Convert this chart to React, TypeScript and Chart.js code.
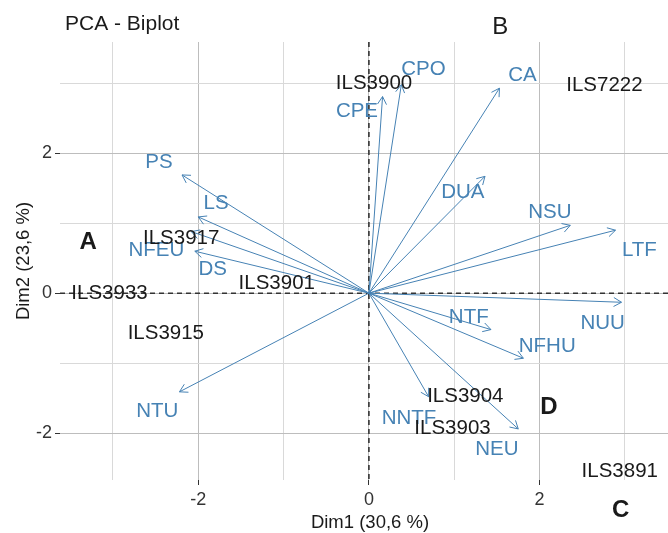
import React, { useEffect, useRef } from "react";
import { Chart, registerables } from "chart.js";

Chart.register(...registerables);

// Variables (arrows): tip coordinates and label positions
const varNames = ["PS", "LS", "DS", "NFEU", "NTU", "CPE", "CPO", "CA", "DUA", "NSU", "LTF", "NUU", "NTF", "NFHU", "NNTF", "NEU"];
const varX = [-2.19, -2.0, -2.08, -2.04, -2.22, 0.16, 0.38, 1.53, 1.36, 2.36, 2.89, 2.96, 1.43, 1.81, 0.7, 1.75];
const varY = [1.69, 1.09, 0.88, 0.6, -1.41, 2.81, 2.98, 2.93, 1.67, 0.97, 0.9, -0.13, -0.52, -0.93, -1.48, -1.94];
const varLabelX = [-2.46, -1.79, -1.83, -2.49, -2.48, -0.14, 0.64, 1.8, 1.1, 2.12, 3.17, 2.74, 1.17, 2.09, 0.47, 1.5];
const varLabelY = [1.9, 1.31, 0.36, 0.64, -1.67, 2.62, 3.22, 3.14, 1.46, 1.18, 0.64, -0.41, -0.32, -0.74, -1.76, -2.21];

// Individuals (labels only)
const indNames = ["ILS3900", "ILS7222", "ILS3917", "ILS3901", "ILS3933", "ILS3915", "ILS3904", "ILS3903", "ILS3891"];
const indX = [0.06, 2.76, -2.2, -1.08, -3.04, -2.38, 1.13, 0.98, 2.94];
const indY = [3.02, 3.0, 0.81, 0.17, 0.02, -0.55, -1.45, -1.91, -2.52];

// Group annotations
const groupNames = ["A", "B", "C", "D"];
const groupX = [-3.29, 1.54, 2.95, 2.11];
const groupY = [0.76, 3.82, -3.07, -1.6];
const groupBold = [true, false, true, true];

// Axes
const xMin = -3.62;
const xMax = 3.505;
const yMin = -2.67;
const yMax = 3.59;
const labeledTicks = [-2, 0, 2];

const chartTitle = "PCA - Biplot";
const xTitle = "Dim1 (30,6 %)";
const yTitle = "Dim2 (23,6 %)";

const FONT = '"Liberation Sans", Arial, sans-serif';
const BLUE = "#4682B4";

function drawText(ctx: CanvasRenderingContext2D, text: string, x: number, y: number, size: number, color: string, bold = false) {
  ctx.font = `${bold ? "bold " : ""}${size}px ${FONT}`;
  ctx.fillStyle = color;
  ctx.textAlign = "center";
  ctx.textBaseline = "alphabetic";
  ctx.fillText(text, x, y + 0.358 * size);
}

const biplotPlugin = {
  id: "biplot",
  beforeDatasetsDraw(chart: any) {
    const { ctx, chartArea: a, scales } = chart;
    const x0 = scales.x.getPixelForValue(0);
    const y0 = scales.y.getPixelForValue(0);
    ctx.save();
    ctx.strokeStyle = "#333";
    ctx.lineWidth = 1.6;
    ctx.setLineDash([5, 4]);
    ctx.beginPath();
    ctx.moveTo(x0, a.top);
    ctx.lineTo(x0, a.bottom);
    ctx.moveTo(a.left, y0);
    ctx.lineTo(a.right, y0);
    ctx.stroke();
    ctx.restore();
  },
  afterDatasetsDraw(chart: any) {
    const { ctx } = chart;
    ctx.save();
    ctx.strokeStyle = BLUE;
    ctx.lineWidth = 1;
    chart.data.datasets.forEach((_: any, i: number) => {
      const meta = chart.getDatasetMeta(i);
      const p0 = meta.data[0];
      const p1 = meta.data[1];
      if (!p0 || !p1) return;
      const ang = Math.atan2(p1.y - p0.y, p1.x - p0.x);
      const len = 9;
      const spread = Math.PI / 6;
      ctx.beginPath();
      ctx.moveTo(p1.x - len * Math.cos(ang - spread), p1.y - len * Math.sin(ang - spread));
      ctx.lineTo(p1.x, p1.y);
      ctx.lineTo(p1.x - len * Math.cos(ang + spread), p1.y - len * Math.sin(ang + spread));
      ctx.stroke();
    });
    ctx.restore();
  },
  afterDraw(chart: any) {
    const { ctx, scales } = chart;
    const sx = scales.x;
    const sy = scales.y;
    ctx.save();
    varNames.forEach((n, i) => {
      drawText(ctx, n, sx.getPixelForValue(varLabelX[i]), sy.getPixelForValue(varLabelY[i]), 20.5, BLUE);
    });
    indNames.forEach((n, i) => {
      drawText(ctx, n, sx.getPixelForValue(indX[i]), sy.getPixelForValue(indY[i]), 20.5, "#1a1a1a");
    });
    groupNames.forEach((n, i) => {
      drawText(ctx, n, sx.getPixelForValue(groupX[i]), sy.getPixelForValue(groupY[i]), 24, "#1a1a1a", groupBold[i]);
    });
    // Title
    ctx.font = `21px ${FONT}`;
    ctx.fillStyle = "#1a1a1a";
    ctx.textAlign = "left";
    ctx.textBaseline = "alphabetic";
    ctx.fillText(chartTitle, 65, 30);
    // X axis title
    drawText(ctx, xTitle, 370, 521.7, 18.5, "#1a1a1a");
    // Y axis title
    ctx.save();
    ctx.translate(22 + 0.358 * 18.5, 261);
    ctx.rotate(-Math.PI / 2);
    ctx.font = `18.5px ${FONT}`;
    ctx.fillStyle = "#1a1a1a";
    ctx.textAlign = "center";
    ctx.textBaseline = "alphabetic";
    ctx.fillText(yTitle, 0, 0);
    ctx.restore();
    ctx.restore();
  },
};

const isLabeled = (v: number) => labeledTicks.some((t) => Math.abs(t - v) < 1e-9);

export default function App() {
  const canvasRef = useRef<HTMLCanvasElement | null>(null);

  useEffect(() => {
    document.body.style.margin = "0";
    const canvas = canvasRef.current;
    if (!canvas) return;
    const datasets = varNames.map((n, i) => ({
      label: n,
      data: [
        { x: 0, y: 0 },
        { x: varX[i], y: varY[i] },
      ],
      showLine: true,
      borderColor: BLUE,
      borderWidth: 1,
      pointRadius: 0,
      pointHoverRadius: 0,
      fill: false,
    }));

    const gridColor = (c: any) => (c.tick && isLabeled(c.tick.value) ? "#bdbdbd" : "#d9d9d9");
    const tickColor = (c: any) => (c.tick && isLabeled(c.tick.value) ? "#333" : "rgba(0,0,0,0)");

    const chart = new Chart(canvas, {
      type: "scatter",
      data: { datasets },
      options: {
        animation: false,
        responsive: true,
        maintainAspectRatio: false,
        layout: { padding: { top: 42, left: 0, right: 0, bottom: 0 }, autoPadding: false } as any,
        plugins: {
          legend: { display: false },
          tooltip: { enabled: false },
          title: { display: false },
        },
        scales: {
          x: {
            type: "linear",
            min: xMin,
            max: xMax,
            border: { display: false },
            grid: { color: gridColor, lineWidth: 1, drawTicks: true, tickLength: 5, tickColor } as any,
            ticks: {
              stepSize: 1,
              includeBounds: false,
              autoSkip: false,
              maxRotation: 0,
              padding: 4,
              color: "#333",
              font: { family: FONT, size: 18 },
              callback: (v: any) => (isLabeled(Number(v)) ? String(v) : ""),
            } as any,
            afterFit: (s: any) => {
              s.height = 53;
            },
          },
          y: {
            type: "linear",
            min: yMin,
            max: yMax,
            border: { display: false },
            grid: { color: gridColor, lineWidth: 1, drawTicks: true, tickLength: 5, tickColor } as any,
            ticks: {
              stepSize: 1,
              includeBounds: false,
              autoSkip: false,
              padding: 3,
              color: "#333",
              font: { family: FONT, size: 18 },
              callback: (v: any) => (isLabeled(Number(v)) ? String(v) : ""),
            } as any,
            afterFit: (s: any) => {
              s.width = 60;
            },
          },
        },
      },
      plugins: [biplotPlugin],
    });
    return () => chart.destroy();
  }, []);

  return (
    <div style={{ width: 668, height: 533, position: "relative" }}>
      <canvas ref={canvasRef} />
    </div>
  );
}
